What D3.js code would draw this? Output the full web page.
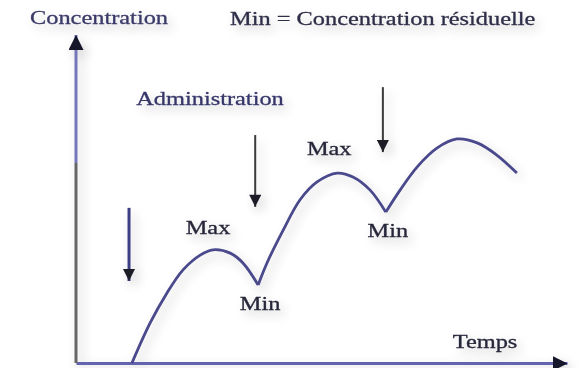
<!DOCTYPE html>
<html>
<head>
<meta charset="utf-8">
<script src="https://cdn.jsdelivr.net/npm/d3@7"></script>
<style>
  body { margin: 0; background: #fff; }
  text { font-family: "Liberation Serif", "Times New Roman", serif; font-size: 19.5px; fill: #26263a; stroke: #26263a; stroke-width: 0.3px; }
</style>
</head>
<body>
<svg id="chart" width="577" height="368"></svg>
<script>
// concentration after each dose (arbitrary units, time 0-100)
var dose1Time = [11.4, 15.1, 18.5, 21.8, 25.3, 27.9, 31.4, 34.0, 37.1];
var dose1Conc = [0, 12.2, 21.3, 28.4, 32.9, 34.5, 33.5, 30.5, 23.8];
var dose2Time = [37.1, 38.9, 42.2, 45.6, 49.1, 53.2, 56.4, 59.9, 63.1];
var dose2Conc = [23.8, 30.5, 40.5, 49.7, 55.2, 57.9, 56.7, 52.7, 46.0];
var dose3Time = [63.1, 66.0, 69.5, 73.5, 77.6, 81.7, 85.7, 89.8];
var dose3Conc = [46.0, 52.7, 59.8, 65.5, 68.3, 67.1, 63.4, 57.9];

// administration arrows
var adminTime = [10.8, 36.5, 62.5];
var adminFrom = [47.3, 69.5, 84.1];
var adminTo = [25.0, 47.6, 64.3];

var yTitle = "Concentration";
var xTitle = "Temps";
var legendText = "Min = Concentration résiduelle";
var adminLabel = "Administration";

var w = 577, h = 368;
var sx = 1.25;

var x = d3.scaleLinear().domain([0, 100]).range([76, 567]);
var y = d3.scaleLinear().domain([0, 100]).range([363, 35]);

var svg = d3.select("#chart");
var defs = svg.append("defs");

var filt = defs.append("filter").attr("id", "soft")
	.attr("x", "-10%").attr("y", "-10%").attr("width", "130%").attr("height", "130%");
filt.append("feGaussianBlur").attr("in", "SourceAlpha").attr("stdDeviation", 6).attr("result", "b");
filt.append("feOffset").attr("in", "b").attr("dx", 4).attr("dy", 5).attr("result", "o");
filt.append("feComponentTransfer").attr("in", "o").attr("result", "sh")
	.append("feFuncA").attr("type", "linear").attr("slope", 0.22);
filt.append("feGaussianBlur").attr("in", "SourceGraphic").attr("stdDeviation", 0.6).attr("result", "g");
var merge = filt.append("feMerge");
merge.append("feMergeNode").attr("in", "sh");
merge.append("feMergeNode").attr("in", "g");

function arrowMarker(id, size, color) {
	defs.append("marker").attr("id", id)
		.attr("viewBox", "0 -5 10 10")
		.attr("refX", 10).attr("refY", 0)
		.attr("markerUnits", "userSpaceOnUse")
		.attr("markerWidth", size[0]).attr("markerHeight", size[1])
		.attr("orient", "auto")
		.append("path").attr("d", "M0,-5L10,0L0,5Z").attr("fill", color);
}
arrowMarker("axisHead", [15, 15], "#15152a");
arrowMarker("doseHead", [15, 12], "#1c1c28");

var grad = defs.append("linearGradient").attr("id", "yGrad")
	.attr("gradientUnits", "userSpaceOnUse")
	.attr("x1", 0).attr("x2", 0).attr("y1", y(100)).attr("y2", y(0));
grad.append("stop").attr("offset", 0.39).attr("stop-color", "#7474ba");
grad.append("stop").attr("offset", 0.39).attr("stop-color", "#666");

var g = svg.append("g").attr("filter", "url(#soft)");

// axes
var xaxis = d3.axisBottom(x).tickValues([]).tickSizeOuter(0);
var yaxis = d3.axisLeft(y).tickValues([]).tickSizeOuter(0);

g.append("g")
	.attr("transform", "translate(0," + y(0) + ")")
	.call(xaxis)
	.select(".domain")
		.attr("stroke", "#6464ae").attr("stroke-width", 3)
		.attr("marker-end", "url(#axisHead)");

g.append("g")
	.attr("transform", "translate(" + x(0) + ",0)")
	.call(yaxis)
	.select(".domain")
		.attr("d", "M0," + y(0) + "V" + y(100))
		.attr("stroke", "url(#yGrad)").attr("stroke-width", 3)
		.attr("marker-end", "url(#axisHead)");

// concentration curve, one arc per dose
var line = d3.line()
	.x(function(d){ return x(d[0]); })
	.y(function(d){ return y(d[1]); })
	.curve(d3.curveCatmullRom.alpha(0.5));

var doses = [d3.zip(dose1Time, dose1Conc), d3.zip(dose2Time, dose2Conc), d3.zip(dose3Time, dose3Conc)];

g.selectAll("path.dose")
	.data(doses)
	.enter().append("path")
		.attr("class", "dose")
		.attr("d", line)
		.attr("fill", "none")
		.attr("stroke", "#48488c")
		.attr("stroke-width", 2.8);

// administration arrows
g.selectAll("line.admin")
	.data(adminTime)
	.enter().append("line")
		.attr("class", "admin")
		.attr("x1", function(d){ return x(d); })
		.attr("x2", function(d){ return x(d); })
		.attr("y1", function(d,i){ return y(adminFrom[i]); })
		.attr("y2", function(d,i){ return y(adminTo[i]); })
		.attr("stroke", function(d,i){ return i == 0 ? "#3d3d86" : "#3a3a3a"; })
		.attr("stroke-width", function(d,i){ return i == 0 ? 3 : 2; })
		.attr("marker-end", "url(#doseHead)");

// labels
function label(txt, px, py, anchor, fill) {
	var t = g.append("text")
		.attr("transform", "translate(" + px + "," + py + ") scale(" + sx + ",1)")
		.attr("text-anchor", anchor || "middle")
		.text(txt);
	if (fill) t.style("fill", fill).style("stroke", fill);
}

var peaks = doses.map(function(d){ return d[d3.maxIndex(d, function(p){ return p[1]; })]; });
var troughs = [doses[0][doses[0].length - 1], doses[1][doses[1].length - 1]];

label("Max", x(peaks[0][0]) - 5, y(peaks[0][1]) - 16);
label("Max", x(peaks[1][0]) - 8, y(peaks[1][1]) - 18);
troughs.forEach(function(d){
	label("Min", x(d[0]) + 2, y(d[1]) + 25);
});

label(yTitle, 30, 24, "start", "#3a3a68");
label(legendText, 230, 25, "start", "#2e2e48");
label(adminLabel, 210, 105, "middle", "#36366a");
label(xTitle, 485, 348, "middle");
</script>
</body>
</html>
